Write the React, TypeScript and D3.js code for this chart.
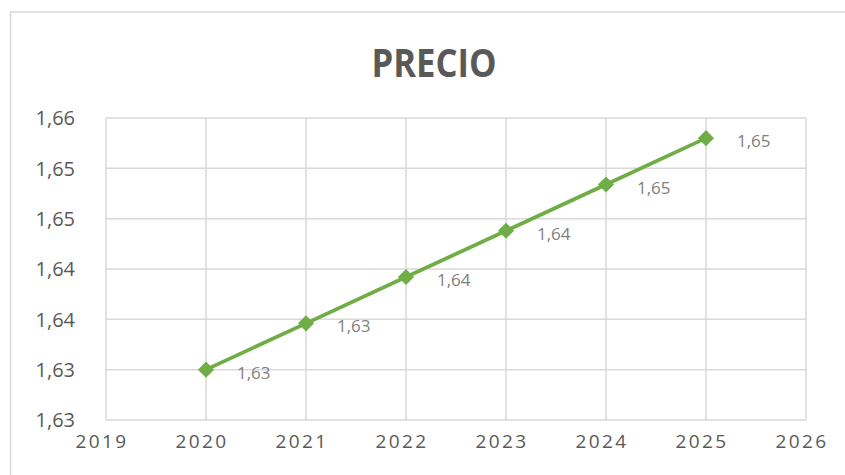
import React from "react";
import * as d3 from "d3";

const years = [2020, 2021, 2022, 2023, 2024, 2025];
const precio = [1.63, 1.6346, 1.6392, 1.6438, 1.6484, 1.653];
const xTicks = [2019, 2020, 2021, 2022, 2023, 2024, 2025, 2026];
const yTicks = [1.625, 1.63, 1.635, 1.64, 1.645, 1.65, 1.655];
const yTickLabels = ["1,63", "1,63", "1,64", "1,64", "1,65", "1,65", "1,66"];
const title = "PRECIO";

const W = 845;
const H = 475;
const FONT = "'Open Sans', 'Noto Sans', sans-serif";

const fmt = (v: number) => (Math.round(v * 100) / 100).toFixed(2).replace(".", ",");

export default function App() {
  const x = d3.scaleLinear().domain([2019, 2026]).range([106, 806]);
  const y = d3.scaleLinear().domain([1.625, 1.655]).range([420, 118]);
  const line = d3
    .line<number>()
    .x((_, i) => x(years[i]))
    .y((d) => y(d));
  const marker = d3.symbol().type(d3.symbolSquare).size(130)();

  return (
    <svg
      width={W}
      height={H}
      style={{ position: "absolute", left: 0, top: 0, display: "block", background: "#fff" }}
    >
      <rect x={0} y={0} width={W} height={H} fill="#fff" />
      <rect x={10.5} y={12} width={W + 10} height={H + 10} fill="none" stroke="#d9d9d9" strokeWidth={1.5} />
      <text
        x={434}
        y={77}
        textAnchor="middle"
        fontFamily={FONT}
        fontWeight="bold"
        fontSize={39}
        fill="#595959"
        textLength={125}
        lengthAdjust="spacingAndGlyphs"
      >
        {title}
      </text>
      <g>
        {yTicks.map((t) => (
          <line key={"h" + t} x1={x(2019)} x2={x(2026)} y1={y(t)} y2={y(t)} stroke="#d9d9d9" strokeWidth={1.5} />
        ))}
        {xTicks.map((t) => (
          <line key={"v" + t} x1={x(t)} x2={x(t)} y1={y(1.625)} y2={y(1.655)} stroke="#d9d9d9" strokeWidth={1.5} />
        ))}
      </g>
      <g fontFamily={FONT} fill="#595959">
        {yTicks.map((t, i) => (
          <text key={"yl" + t} x={75} y={y(t)} dy="0.36em" textAnchor="end" fontSize={20}>
            {yTickLabels[i]}
          </text>
        ))}
        {xTicks.map((t) => (
          <text key={"xl" + t} x={x(t) - 4} y={448} textAnchor="middle" fontSize={19} letterSpacing={2.4}>
            {t}
          </text>
        ))}
      </g>
      <path d={line(precio) || ""} fill="none" stroke="#70ad47" strokeWidth={3.75} />
      {precio.map((v, i) => (
        <path
          key={"m" + i}
          d={marker || ""}
          transform={`translate(${x(years[i])},${y(v)}) rotate(45)`}
          fill="#70ad47"
        />
      ))}
      <g fontFamily={FONT} fill="#7f7f7f" fontSize={17}>
        {precio.map((v, i) => (
          <text key={"dl" + i} x={x(years[i]) + 31} y={y(v) + 3} dy="0.36em">
            {fmt(v)}
          </text>
        ))}
      </g>
    </svg>
  );
}
